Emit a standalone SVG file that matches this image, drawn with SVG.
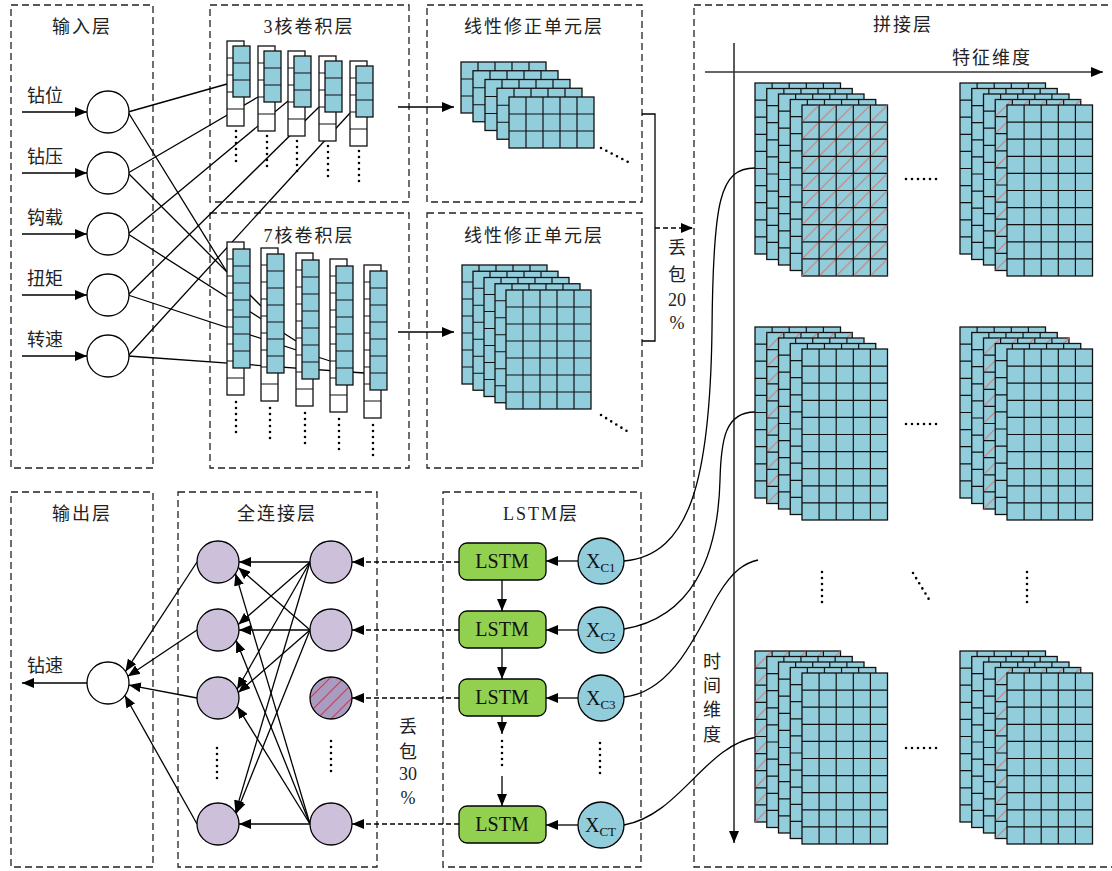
<svg xmlns="http://www.w3.org/2000/svg" width="1112" height="871" viewBox="0 0 1112 871">
<style>
.box{fill:none;stroke:#222;stroke-width:1.3;stroke-dasharray:7 4}
.t{font-family:"Liberation Serif","Noto Sans CJK SC",serif;font-size:18px;fill:#222;letter-spacing:2px}
.l{font-family:"Liberation Serif","Noto Sans CJK SC",serif;font-size:18px;fill:#222}
.tm{text-anchor:middle}
.ln{stroke:#000;stroke-width:1.3;fill:none}
.ar{stroke:#000;stroke-width:1.3;fill:none;marker-end:url(#ah)}
.da{stroke:#000;stroke-width:1.3;fill:none;stroke-dasharray:5 3;marker-end:url(#ah)}
.ax{stroke:#333;stroke-width:1.6;fill:none;marker-end:url(#ah)}
.dots{stroke:#000;stroke-width:2.6;stroke-linecap:round;stroke-dasharray:0 6;fill:none}
.grid{fill:none;stroke:#111;stroke-width:1.2}
.blue{fill:#92cddc;stroke:#111;stroke-width:1.3}
.white{fill:#fff;stroke:#111;stroke-width:1.3}
.nd{fill:#fff;stroke:#000;stroke-width:1.3}
.fc{fill:#ccc0da;stroke:#000;stroke-width:1.3}
.lstm{fill:#92d050;stroke:#000;stroke-width:1.3}
.xc{fill:#92cddc;stroke:#000;stroke-width:1.3}
.lt{font-family:"Liberation Serif",serif;font-size:20px;fill:#111;text-anchor:middle}
.xt{font-family:"Liberation Serif",serif;font-size:20px;fill:#111}
</style>
<defs>
<marker id="ah" markerUnits="userSpaceOnUse" markerWidth="12" markerHeight="10" refX="12" refY="5" orient="auto"><path d="M0,0L12,5L0,10z" fill="#000"/></marker>
<pattern id="hatch" patternUnits="userSpaceOnUse" width="17.1" height="17.1"><path d="M0 17.1L17.1 0" stroke="#d9736a" stroke-width="1"/></pattern>
<pattern id="hatchR" patternUnits="userSpaceOnUse" width="14" height="14"><path d="M0 14L14 0M-2 2L2 -2M12 16L16 12" stroke="#e8343c" stroke-width="1.2"/></pattern>
<g id="c3w"><rect class="white" width="17" height="85"/><path class="grid" d="M0 17H17M0 34H17M0 51H17M0 68H17"/></g>
<g id="c3b"><rect class="blue" width="17" height="51"/><path class="grid" d="M0 17H17M0 34H17"/></g>
<g id="c7w"><rect class="white" width="17" height="153"/><path class="grid" d="M0 17H17M0 34H17M0 51H17M0 68H17M0 85H17M0 102H17M0 119H17M0 136H17"/></g>
<g id="c7b"><rect class="blue" width="17" height="119"/><path class="grid" d="M0 17H17M0 34H17M0 51H17M0 68H17M0 85H17M0 102H17"/></g>
<g id="r3"><rect class="blue" width="85" height="51"/><path class="grid" d="M17 0V51M34 0V51M51 0V51M68 0V51M0 17H85M0 34H85"/></g>
<g id="r7"><rect class="blue" width="85" height="119"/><path class="grid" d="M17 0V119M34 0V119M51 0V119M68 0V119M0 17H85M0 34H85M0 51H85M0 68H85M0 85H85M0 102H85"/></g>
<g id="m"><rect class="blue" width="85.5" height="171"/><path class="grid" d="M17.1 0V171M34.2 0V171M51.3 0V171M68.4 0V171M0 17.1H85.5M0 34.2H85.5M0 51.3H85.5M0 68.4H85.5M0 85.5H85.5M0 102.6H85.5M0 119.7H85.5M0 136.8H85.5M0 153.9H85.5"/></g>
<g id="mh"><rect class="blue" width="85.5" height="171"/><rect width="85.5" height="171" fill="url(#hatch)"/><path class="grid" d="M17.1 0V171M34.2 0V171M51.3 0V171M68.4 0V171M0 17.1H85.5M0 34.2H85.5M0 51.3H85.5M0 68.4H85.5M0 85.5H85.5M0 102.6H85.5M0 119.7H85.5M0 136.8H85.5M0 153.9H85.5"/></g>
</defs>

<g id="frames">
<rect class="box" x="11" y="5" width="142" height="463"/>
<rect class="box" x="210" y="5" width="199" height="197"/>
<rect class="box" x="210" y="213" width="199" height="255"/>
<rect class="box" x="427" y="5" width="215" height="197"/>
<rect class="box" x="427" y="213" width="215" height="255"/>
<rect class="box" x="694" y="5" width="430" height="862"/>
<rect class="box" x="11" y="492" width="142" height="375"/>
<rect class="box" x="178" y="492" width="199" height="375"/>
<rect class="box" x="443" y="492" width="198" height="375"/>
</g>

<g id="connectors">
<line class="ar" x1="22" y1="112" x2="87" y2="112"/>
<line class="ar" x1="22" y1="173" x2="87" y2="173"/>
<line class="ar" x1="22" y1="234" x2="87" y2="234"/>
<line class="ar" x1="22" y1="295" x2="87" y2="295"/>
<line class="ar" x1="22" y1="356" x2="87" y2="356"/>
<line class="ln" x1="128" y1="112" x2="227" y2="84"/>
<line class="ln" x1="128" y1="173" x2="258" y2="97"/>
<line class="ln" x1="128" y1="234" x2="288" y2="101"/>
<line class="ln" x1="128" y1="295" x2="319" y2="107"/>
<line class="ln" x1="128" y1="356" x2="350" y2="113"/>
<line class="ln" x1="128" y1="112" x2="227" y2="272"/>
<line class="ln" x1="128" y1="173" x2="261" y2="306"/>
<line class="ln" x1="128" y1="234" x2="296" y2="341"/>
<line class="ln" x1="128" y1="295" x2="330" y2="361"/>
<line class="ln" x1="128" y1="356" x2="364" y2="373"/>
<line class="ar" x1="398" y1="107" x2="454" y2="107"/>
<line class="ar" x1="398" y1="332" x2="454" y2="332"/>
<polyline class="ln" points="642,114 655,114 655,341 642,341"/>
<line class="da" x1="655" y1="228" x2="693" y2="228"/>
<line class="ax" x1="705" y1="72" x2="1103" y2="72"/>
<line class="ax" x1="734" y1="43" x2="734" y2="843"/>
<path class="ln" d="M624,561 C690,555 710,480 712,330 C713,200 720,168 755,168"/>
<path class="ln" d="M624,629 C690,618 718,560 720,480 C721,440 725,412 755,412"/>
<path class="ln" d="M624,697 C675,692 700,625 718,595 C733,570 745,563 758,560"/>
<path class="ln" d="M624,825 C680,815 705,745 757,737"/>
<line class="ar" x1="578" y1="561" x2="546" y2="561"/>
<line class="ar" x1="578" y1="630" x2="546" y2="630"/>
<line class="ar" x1="578" y1="698" x2="546" y2="698"/>
<line class="ar" x1="578" y1="825" x2="546" y2="825"/>
<line class="ar" x1="502" y1="580" x2="502" y2="611"/>
<line class="ar" x1="502" y1="648" x2="502" y2="679"/>
<line class="ar" x1="502" y1="716" x2="502" y2="734"/>
<line class="ar" x1="502" y1="776" x2="502" y2="806"/>
<line class="da" x1="459" y1="562" x2="352" y2="562"/>
<line class="da" x1="459" y1="630" x2="352" y2="630"/>
<line class="da" x1="459" y1="698" x2="352" y2="698"/>
<line class="da" x1="459" y1="824" x2="352" y2="824"/>
<line class="ar" x1="310" y1="562" x2="239" y2="562"/>
<line class="ar" x1="310" y1="562" x2="238.3" y2="624.5"/>
<line class="ar" x1="310" y1="562" x2="237.1" y2="689.2"/>
<line class="ar" x1="310" y1="562" x2="235.5" y2="812.4"/>
<line class="ar" x1="310" y1="630" x2="238.3" y2="567.5"/>
<line class="ar" x1="310" y1="630" x2="239" y2="630"/>
<line class="ar" x1="310" y1="630" x2="238.3" y2="692.5"/>
<line class="ar" x1="310" y1="630" x2="236.2" y2="813.5"/>
<line class="ar" x1="310" y1="824" x2="235.5" y2="573.6"/>
<line class="ar" x1="310" y1="824" x2="236.2" y2="640.5"/>
<line class="ar" x1="310" y1="824" x2="237.2" y2="706.4"/>
<line class="ar" x1="310" y1="824" x2="239" y2="824"/>
<line class="ar" x1="197" y1="562" x2="125.5" y2="671.4"/>
<line class="ar" x1="197" y1="630" x2="127.9" y2="676.3"/>
<line class="ar" x1="197" y1="698" x2="128.9" y2="685.1"/>
<line class="ar" x1="197" y1="824" x2="124.9" y2="695.5"/>
<line class="ar" x1="87" y1="683" x2="22" y2="683"/>
</g>

<g id="input-layer">
<text class="t tm" x="82" y="33">输入层</text>
<text class="l" x="27" y="102">钻位</text>
<text class="l" x="27" y="163">钻压</text>
<text class="l" x="27" y="224">钩载</text>
<text class="l" x="27" y="285">扭矩</text>
<text class="l" x="27" y="346">转速</text>
<circle class="nd" cx="108" cy="112" r="21"/>
<circle class="nd" cx="108" cy="173" r="21"/>
<circle class="nd" cx="108" cy="234" r="21"/>
<circle class="nd" cx="108" cy="295" r="21"/>
<circle class="nd" cx="108" cy="356" r="21"/>
</g>

<g id="conv3">
<text class="t tm" x="309" y="33">3核卷积层</text>
<use href="#c3w" x="227" y="41"/><use href="#c3b" x="233" y="46"/>
<use href="#c3w" x="258" y="46"/><use href="#c3b" x="264" y="51"/>
<use href="#c3w" x="288" y="51"/><use href="#c3b" x="294" y="56"/>
<use href="#c3w" x="319" y="56"/><use href="#c3b" x="325" y="61"/>
<use href="#c3w" x="350" y="61"/><use href="#c3b" x="356" y="66"/>
<line class="dots" x1="236" y1="131" x2="236" y2="166"/>
<line class="dots" x1="267" y1="136" x2="267" y2="171"/>
<line class="dots" x1="297" y1="141" x2="297" y2="176"/>
<line class="dots" x1="328" y1="146" x2="328" y2="181"/>
<line class="dots" x1="359" y1="151" x2="359" y2="186"/>
</g>

<g id="conv7">
<text class="t tm" x="309" y="242">7核卷积层</text>
<use href="#c7w" x="227" y="242"/><use href="#c7b" x="233" y="249"/>
<use href="#c7w" x="261" y="248"/><use href="#c7b" x="267" y="254"/>
<use href="#c7w" x="296" y="253"/><use href="#c7b" x="302" y="260"/>
<use href="#c7w" x="330" y="259"/><use href="#c7b" x="336" y="266"/>
<use href="#c7w" x="364" y="265"/><use href="#c7b" x="370" y="271"/>
<line class="dots" x1="236" y1="402" x2="236" y2="437"/>
<line class="dots" x1="270" y1="408" x2="270" y2="443"/>
<line class="dots" x1="305" y1="413" x2="305" y2="448"/>
<line class="dots" x1="339" y1="419" x2="339" y2="454"/>
<line class="dots" x1="373" y1="425" x2="373" y2="460"/>
</g>

<g id="relu1">
<text class="t tm" x="534" y="33">线性修正单元层</text>
<use href="#r3" x="461" y="62"/>
<use href="#r3" x="473" y="70.75"/>
<use href="#r3" x="485" y="79.5"/>
<use href="#r3" x="497" y="88.25"/>
<use href="#r3" x="509" y="97"/>
<line class="dots" x1="601" y1="148" x2="630" y2="163"/>
</g>

<g id="relu2">
<text class="t tm" x="534" y="242">线性修正单元层</text>
<use href="#r7" x="462" y="265"/>
<use href="#r7" x="473" y="271.25"/>
<use href="#r7" x="484" y="277.5"/>
<use href="#r7" x="495" y="283.75"/>
<use href="#r7" x="506" y="290"/>
<line class="dots" x1="601" y1="415" x2="630" y2="433"/>
</g>

<g id="dropout20">
<text class="l tm" x="677" y="254">丢</text>
<text class="l tm" x="677" y="281">包</text>
<text class="l tm" x="677" y="306">20</text>
<text class="l tm" x="677" y="329">%</text>
</g>

<g id="concat-layer">
<text class="t tm" x="903" y="31">拼接层</text>
<text class="t tm" x="992" y="64">特征维度</text>
<text class="l tm" x="712" y="668">时</text>
<text class="l tm" x="712" y="692">间</text>
<text class="l tm" x="712" y="716">维</text>
<text class="l tm" x="712" y="741">度</text>
<g id="stack-tl">
<use href="#m" x="755" y="83"/><use href="#m" x="766.75" y="88.5"/><use href="#m" x="778.5" y="94"/><use href="#m" x="790.25" y="99.5"/><use href="#mh" x="802" y="105"/>
</g>
<g id="stack-tr">
<use href="#m" x="960" y="83"/><use href="#m" x="971.75" y="88.5"/><use href="#m" x="983.5" y="94"/><use href="#mh" x="995.25" y="99.5"/><use href="#m" x="1007" y="105"/>
</g>
<g id="stack-ml">
<use href="#m" x="755" y="327"/><use href="#mh" x="766.75" y="332.5"/><use href="#m" x="778.5" y="338"/><use href="#m" x="790.25" y="343.5"/><use href="#m" x="802" y="349"/>
</g>
<g id="stack-mr">
<use href="#m" x="960" y="327"/><use href="#m" x="971.75" y="332.5"/><use href="#mh" x="983.5" y="338"/><use href="#m" x="995.25" y="343.5"/><use href="#m" x="1007" y="349"/>
</g>
<g id="stack-bl">
<use href="#mh" x="755" y="651"/><use href="#m" x="766.75" y="656.5"/><use href="#m" x="778.5" y="662"/><use href="#m" x="790.25" y="667.5"/><use href="#m" x="802" y="673"/>
</g>
<g id="stack-br">
<use href="#m" x="960" y="651"/><use href="#m" x="971.75" y="656.5"/><use href="#m" x="983.5" y="662"/><use href="#mh" x="995.25" y="667.5"/><use href="#m" x="1007" y="673"/>
</g>
<line class="dots" x1="906" y1="179" x2="940" y2="179"/>
<line class="dots" x1="906" y1="424" x2="940" y2="424"/>
<line class="dots" x1="906" y1="748" x2="940" y2="748"/>
<line class="dots" x1="822" y1="572" x2="822" y2="603"/>
<line class="dots" x1="1027" y1="572" x2="1027" y2="603"/>
<line class="dots" x1="913" y1="573" x2="930" y2="601"/>
</g>

<g id="lstm-layer">
<text class="t tm" x="541" y="520">LSTM层</text>
<rect class="lstm" x="459" y="543" width="87" height="37" rx="8"/>
<rect class="lstm" x="459" y="611" width="87" height="37" rx="8"/>
<rect class="lstm" x="459" y="679" width="87" height="37" rx="8"/>
<rect class="lstm" x="459" y="806" width="87" height="37" rx="8"/>
<text class="lt" x="502" y="568">LSTM</text>
<text class="lt" x="502" y="636">LSTM</text>
<text class="lt" x="502" y="704">LSTM</text>
<text class="lt" x="502" y="831">LSTM</text>
<line class="dots" x1="502" y1="741" x2="502" y2="771"/>
<circle class="xc" cx="601" cy="561" r="23"/>
<circle class="xc" cx="601" cy="630" r="23"/>
<circle class="xc" cx="601" cy="698" r="23"/>
<circle class="xc" cx="601" cy="825" r="23"/>
<text class="xt" x="586" y="568">X<tspan font-size="13" dy="4">C1</tspan></text>
<text class="xt" x="586" y="637">X<tspan font-size="13" dy="4">C2</tspan></text>
<text class="xt" x="586" y="705">X<tspan font-size="13" dy="4">C3</tspan></text>
<text class="xt" x="585" y="832">X<tspan font-size="13" dy="4">CT</tspan></text>
<line class="dots" x1="600" y1="743" x2="600" y2="775"/>
</g>

<g id="dropout30">
<text class="l tm" x="408" y="733">丢</text>
<text class="l tm" x="408" y="758">包</text>
<text class="l tm" x="408" y="780">30</text>
<text class="l tm" x="408" y="804">%</text>
</g>

<g id="fc-layer">
<text class="t tm" x="277" y="520">全连接层</text>
<circle class="fc" cx="218" cy="562" r="21"/>
<circle class="fc" cx="218" cy="630" r="21"/>
<circle class="fc" cx="218" cy="698" r="21"/>
<circle class="fc" cx="218" cy="824" r="21"/>
<circle class="fc" cx="331" cy="562" r="21"/>
<circle class="fc" cx="331" cy="630" r="21"/>
<circle cx="331" cy="698" r="21" fill="#a99cc2"/>
<circle cx="331" cy="698" r="21" fill="url(#hatchR)" stroke="#000" stroke-width="1.3"/>
<circle class="fc" cx="331" cy="824" r="21"/>
<line class="dots" x1="217" y1="748" x2="217" y2="782"/>
<line class="dots" x1="331" y1="741" x2="331" y2="775"/>
</g>

<g id="output-layer">
<text class="t tm" x="82" y="520">输出层</text>
<text class="l" x="27" y="672">钻速</text>
<circle class="nd" cx="108" cy="683" r="21"/>
</g>
</svg>
